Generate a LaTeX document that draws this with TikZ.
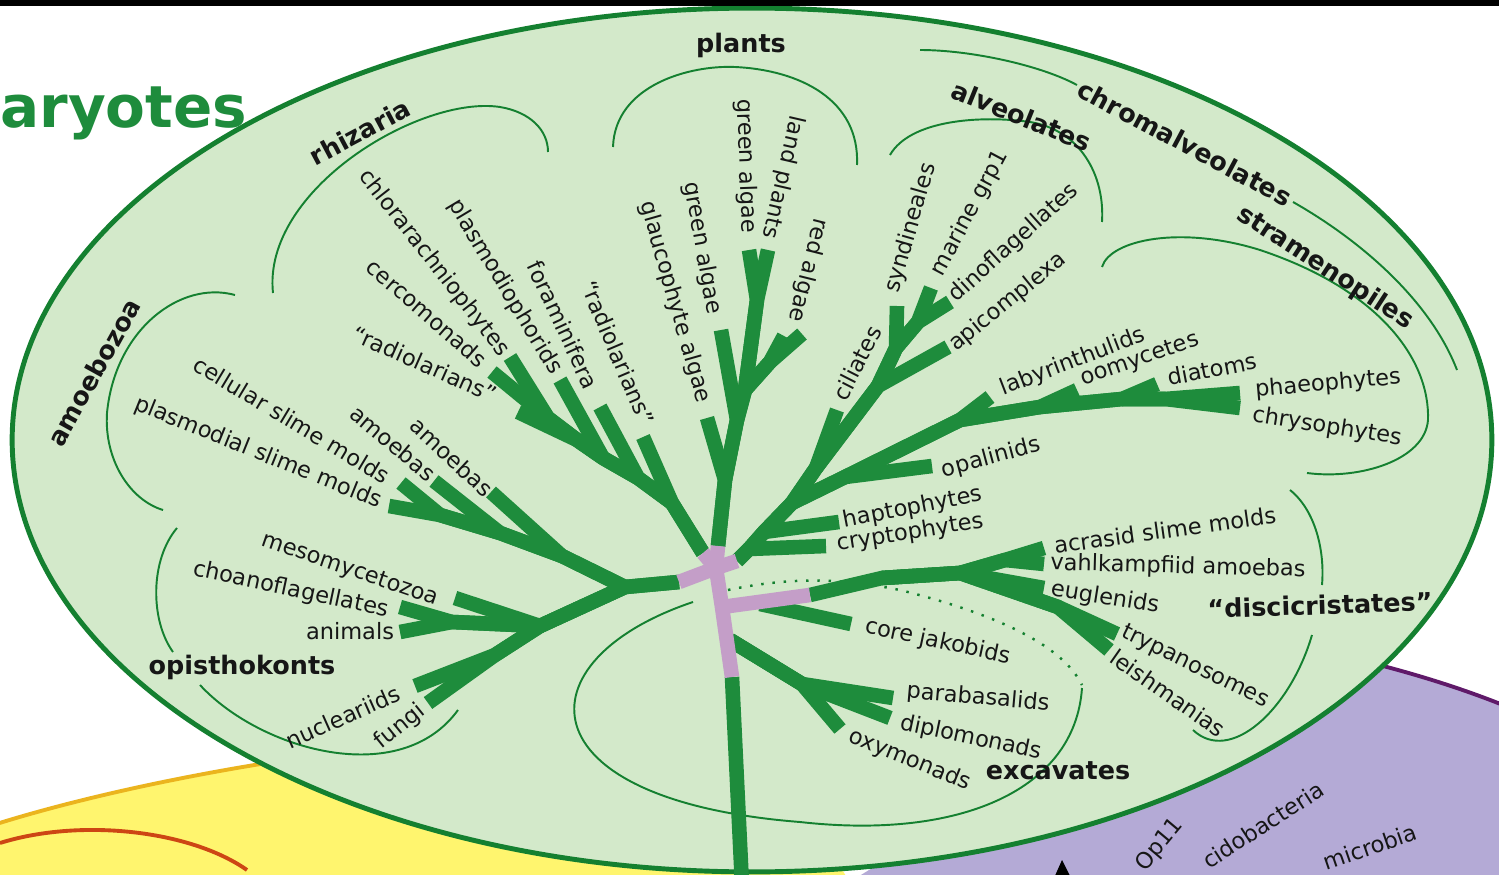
\documentclass[tikz,border=0pt]{standalone}
\usepackage{fontspec}
\setmainfont{DejaVu Sans}
\definecolor{bg}{RGB}{211,233,202}
\definecolor{rim}{RGB}{20,128,48}
\definecolor{br}{RGB}{30,140,60}
\definecolor{mauve}{RGB}{196,158,200}
\definecolor{yel}{RGB}{255,245,110}
\definecolor{yelrim}{RGB}{235,180,30}
\definecolor{redarc}{RGB}{205,70,20}
\definecolor{pur}{RGB}{180,170,214}
\definecolor{purrim}{RGB}{95,25,105}
\definecolor{ink}{RGB}{22,22,22}
\begin{document}
\begin{tikzpicture}[x=0.02cm,y=-0.02cm,
  branch/.style={draw=br,line width=8.3pt,line join=round},
  rootseg/.style={draw=mauve,line width=8.3pt,line join=round},
  bracket/.style={draw=rim,line width=1.1pt},
  lab/.style={text=ink,font=\fontsize{12.8}{14}\selectfont,inner sep=0pt},
  grp/.style={text=ink,font=\bfseries\fontsize{14.5}{16}\selectfont,inner sep=0pt}]
\useasboundingbox (0,0) rectangle (1499,875);
\clip (0,0) rectangle (1499,875);
\fill[white] (0,0) rectangle (1499,875);
% background regions
\fill[pur] (1250,637) .. controls (1350,655) and (1440,678) .. (1520,712) -- (1520,900) -- (820,900) -- cycle;
\draw[purrim,line width=2.2pt] (1250,637) .. controls (1350,655) and (1440,678) .. (1520,712);
\fill[yel] (-10,826) .. controls (150,775) and (450,720) .. (760,730) -- (860,900) -- (-10,900) -- cycle;
\draw[yelrim,line width=2.2pt] (-10,826) .. controls (150,775) and (450,720) .. (760,730);
\draw[redarc,line width=2.2pt] (0,843) .. controls (80,818) and (190,830) .. (247,870);
\filldraw[fill=bg,draw=rim,line width=2.8pt] (752,440) ellipse [x radius=14.8cm,y radius=8.64cm];
\fill[black] (0,0) rectangle (1499,6);
% purple labels
\fill[black] (1054,878) -- (1062,860) -- (1071,878) -- cycle;
\node[lab,rotate=50] (nOp) at (1160,845) {Op11};
\node[lab,rotate=33] (nAcido) at (1263,825) {cidobacteria};
\node[lab,rotate=19] (nMicro) at (1370,847) {microbia};
% brackets
\draw[bracket] (273,293) .. controls (262,190) and (420,95) .. (500,107) .. controls (530,112) and (548,130) .. (548,152);
\draw[bracket] (613,147) .. controls (615,85) and (690,65) .. (735,67) .. controls (800,70) and (860,100) .. (857,165);
\draw[bracket] (890,155) .. controls (910,120) and (980,115) .. (1030,122) .. controls (1080,130) and (1105,175) .. (1102,222);
\draw[bracket] (920,50) .. controls (970,50) and (1040,65) .. (1077,85);
\draw[bracket] (1293,202) .. controls (1360,240) and (1430,300) .. (1457,370);
\draw[bracket] (1102,267) .. controls (1110,240) and (1180,225) .. (1260,250) .. controls (1380,290) and (1430,360) .. (1428,420) .. controls (1425,460) and (1360,480) .. (1307,473);
\draw[bracket] (1290,490) .. controls (1315,510) and (1325,550) .. (1322,585);
\draw[bracket] (1312,635) .. controls (1290,710) and (1230,765) .. (1193,730);
\draw[bracket] (693,602) .. controls (520,660) and (520,800) .. (800,822) .. controls (960,840) and (1075,790) .. (1082,688);
\draw[bracket] (177,528) .. controls (150,560) and (150,620) .. (173,652);
\draw[bracket] (200,685) .. controls (260,750) and (400,790) .. (458,710);
\draw[bracket] (235,295) .. controls (180,280) and (115,330) .. (107,413) .. controls (104,460) and (130,500) .. (163,510);
% dotted line
\draw[rim,line width=1.4pt,dash pattern=on 1.4pt off 5pt] (728,590) .. controls (800,575) and (850,580) .. (900,590) .. controls (980,610) and (1060,640) .. (1082,685);
% coordinates
\coordinate (C0) at (716,568);
\coordinate (C1) at (722,607);
\coordinate (Pl0) at (718,546);
\coordinate (Rz0) at (703,553);
\coordinate (Ch0) at (737,561);
\coordinate (Un0) at (679,582);
\coordinate (Tr0) at (732,677);
\coordinate (TrEnd) at (742,885);
\coordinate (Dc0) at (810,595);
% plants
\coordinate (Pl1) at (725,480);
\coordinate (Pl2) at (737,420);
\coordinate (Pl3) at (745,390);
\coordinate (Pl4) at (757,300);
\coordinate (Ra0) at (770,362);
\coordinate (tGlau) at (707,418);
\coordinate (tGa1) at (721,330);
\coordinate (tGa2) at (749,250);
\coordinate (tLand) at (768,250);
\coordinate (tRa1) at (784,336);
\coordinate (tRa2) at (802,334);
% rhizaria
\coordinate (Rz1) at (672,503);
\coordinate (Rz2) at (638,478);
\coordinate (Rz3) at (603,458);
\coordinate (Rz4) at (577,440);
\coordinate (Rz5) at (548,418);
\coordinate (tRadR) at (643,437);
\coordinate (tForam) at (600,407);
\coordinate (tPlasmo) at (560,380);
\coordinate (tRadL) at (518,412);
\coordinate (tChlor) at (510,357);
\coordinate (tCerco) at (492,372);
% unikonts
\coordinate (Un1) at (625,587);
\coordinate (Am1) at (562,556);
\coordinate (Am2) at (500,533);
\coordinate (Am3) at (440,515);
\coordinate (tAmR) at (491,492);
\coordinate (tAmL) at (434,481);
\coordinate (tCell) at (401,483);
\coordinate (tPlasm) at (389,506);
\coordinate (Op1) at (540,626);
\coordinate (Op2) at (452,622);
\coordinate (Op3) at (495,655);
\coordinate (tMeso) at (455,598);
\coordinate (tChoano) at (400,607);
\coordinate (tAnim) at (400,632);
\coordinate (tNucl) at (415,686);
\coordinate (tFungi) at (428,703);
% chromalveolates
\coordinate (Ch1) at (749,549);
\coordinate (Ch2) at (764,532);
\coordinate (Ch3) at (792,503);
\coordinate (tCrypto) at (826,546);
\coordinate (tHapto) at (839,522);
\coordinate (Al1) at (816,468);
\coordinate (Al2) at (878,386);
\coordinate (Al3) at (896,348);
\coordinate (Al4) at (918,322);
\coordinate (tCil) at (837,410);
\coordinate (tApic) at (948,347);
\coordinate (tSynd) at (897,306);
\coordinate (tMar) at (931,288);
\coordinate (tDino) at (950,302);
\coordinate (St1) at (845,477);
\coordinate (St2) at (960,420);
\coordinate (St3) at (1040,407);
\coordinate (St4) at (1122,399);
\coordinate (St5) at (1165,399);
\coordinate (tOpal) at (932,466);
\coordinate (tLaby) at (990,397);
\coordinate (tOomy) at (1077,390);
\coordinate (tDiat) at (1157,384);
\coordinate (tPhaeo) at (1240,393);
\coordinate (tChryso) at (1240,408);
% excavates
\coordinate (Dc1) at (882,578);
\coordinate (Dc2) at (960,573);
\coordinate (Dc3) at (1005,560);
\coordinate (Dc4) at (1058,607);
\coordinate (tAcra) at (1044,548);
\coordinate (tVahl) at (1044,564);
\coordinate (tEugl) at (1044,588);
\coordinate (tTryp) at (1117,634);
\coordinate (tLeish) at (1109,650);
\coordinate (Cj0) at (760,604);
\coordinate (tCj) at (851,624);
\coordinate (Ex0) at (730,640);
\coordinate (Ex1) at (802,684);
\coordinate (tPara) at (893,698);
\coordinate (tDiplo) at (890,718);
\coordinate (tOxy) at (840,729);
% green branches
\draw[branch] (Tr0) -- (TrEnd);
\draw[branch] (Pl0) -- (Pl1) -- (tGlau);
\draw[branch] (Pl0) -- (Pl1) -- (Pl2) -- (tGa1);
\draw[branch] (Pl1) -- (Pl2) -- (Pl3) -- (Pl4) -- (tGa2);
\draw[branch] (Pl3) -- (Pl4) -- (tLand);
\draw[branch] (Pl2) -- (Pl3) -- (Ra0) -- (tRa1);
\draw[branch] (Pl3) -- (Ra0) -- (tRa2);
\draw[branch] (Rz0) -- (Rz1) -- (tRadR);
\draw[branch] (Rz0) -- (Rz1) -- (Rz2) -- (tForam);
\draw[branch] (Rz1) -- (Rz2) -- (Rz3) -- (tPlasmo);
\draw[branch] (Rz2) -- (Rz3) -- (Rz4) -- (tRadL);
\draw[branch] (Rz3) -- (Rz4) -- (Rz5) -- (tChlor);
\draw[branch] (Rz4) -- (Rz5) -- (tCerco);
\draw[branch] (Un0) -- (Un1) -- (Am1) -- (tAmR);
\draw[branch] (Un1) -- (Am1) -- (Am2) -- (tAmL);
\draw[branch] (Am1) -- (Am2) -- (Am3) -- (tCell);
\draw[branch] (Am2) -- (Am3) -- (tPlasm);
\draw[branch] (Un0) -- (Un1) -- (Op1) -- (tMeso);
\draw[branch] (Un1) -- (Op1) -- (Op2) -- (tChoano);
\draw[branch] (Op1) -- (Op2) -- (tAnim);
\draw[branch] (Un1) -- (Op1) -- (Op3) -- (tNucl);
\draw[branch] (Op1) -- (Op3) -- (tFungi);
\draw[branch] (Ch0) -- (Ch1) -- (tCrypto);
\draw[branch] (Ch0) -- (Ch1) -- (Ch2) -- (tHapto);
\draw[branch] (Ch1) -- (Ch2) -- (Ch3) -- (Al1) -- (tCil);
\draw[branch] (Ch3) -- (Al1) -- (Al2) -- (tApic);
\draw[branch] (Al1) -- (Al2) -- (Al3) -- (tSynd);
\draw[branch] (Al2) -- (Al3) -- (Al4) -- (tMar);
\draw[branch] (Al3) -- (Al4) -- (tDino);
\draw[branch] (Ch2) -- (Ch3) -- (St1) -- (tOpal);
\draw[branch] (Ch3) -- (St1) -- (St2) -- (tLaby);
\draw[branch] (St1) -- (St2) -- (St3) -- (tOomy);
\draw[branch] (St2) -- (St3) -- (St4) -- (tDiat);
\draw[branch] (St3) -- (St4) -- (St5) -- (tPhaeo);
\draw[branch] (St4) -- (St5) -- (tChryso);
\draw[branch] (Dc0) -- (Dc1) -- (Dc2) -- (Dc3) -- (tAcra);
\draw[branch] (Dc2) -- (Dc3) -- (tVahl);
\draw[branch] (Dc1) -- (Dc2) -- (tEugl);
\draw[branch] (Dc1) -- (Dc2) -- (Dc4) -- (tTryp);
\draw[branch] (Dc2) -- (Dc4) -- (tLeish);
\draw[branch] (Cj0) -- (tCj);
\draw[branch] (Ex0) -- (Ex1) -- (tPara);
\draw[branch] (Ex0) -- (Ex1) -- (tDiplo);
\draw[branch] (Ex0) -- (Ex1) -- (tOxy);
% purple root
\draw[rootseg] (Pl0) -- (C0) -- (Un0);
\draw[rootseg] (Rz0) -- (C0) -- (Ch0);
\draw[rootseg] (C0) -- (C1) -- (Tr0);
\draw[rootseg] (C1) -- (Dc0);
% title
\node[font=\bfseries\fontsize{33}{36}\selectfont,text=br,anchor=base west,inner sep=0pt] (title) at (0,128) {aryotes};
% group labels
\node[grp,rotate=28] (gRhiz) at (360,132) {rhizaria};
\node[grp] (gPlants) at (741,45) {plants};
\node[grp,rotate=-22] (gAlv) at (1022,116) {alveolates};
\node[grp,rotate=-28] (gChrom) at (1185,143) {chromalveolates};
\node[grp,rotate=-33] (gStram) at (1325,268) {stramenopiles};
\node[grp,rotate=61] (gAmoe) at (94,372) {amoebozoa};
\node[grp] (gOpis) at (242,667) {opisthokonts};
\node[grp] (gExc) at (1058,771) {excavates};
\node[grp,rotate=2] (gDisc) at (1320,605) {“discicristates”};
% rhizaria labels
\node[lab,rotate=-52] (lChlor) at (434,263) {chlorarachniophytes};
\node[lab,rotate=-59] (lPlasmo) at (505,287) {plasmodiophorids};
\node[lab,rotate=-41] (lCerco) at (427,313) {cercomonads};
\node[lab,rotate=-24] (lRadL) at (425,364) {“radiolarians”};
\node[lab,rotate=-65] (lForam) at (563,325) {foraminifera};
\node[lab,rotate=-67] (lRadR) at (618,353) {“radiolarians”};
% plants labels
\node[lab,rotate=-74] (lGlau) at (675,302) {glaucophyte algae};
\node[lab,rotate=-80] (lGa1) at (702,248) {green algae};
\node[lab,rotate=-88] (lGa2) at (746,166) {green algae};
\node[lab,rotate=-103] (lLand) at (783,177) {land plants};
\node[lab,rotate=-104] (lRed) at (808,270) {red algae};
% alveolates
\node[lab,rotate=63] (lCil) at (857,363) {ciliates};
\node[lab,rotate=74] (lSynd) at (911,228) {syndineales};
\node[lab,rotate=62] (lMar) at (970,213) {marine grp1};
\node[lab,rotate=42] (lDino) at (1014,243) {dinoflagellates};
\node[lab,rotate=39] (lApic) at (1008,302) {apicomplexa};
% stramenopiles
\node[lab,rotate=21] (lLaby) at (1073,362) {labyrinthulids};
\node[lab,rotate=19] (lOomy) at (1140,360) {oomycetes};
\node[lab,rotate=11] (lDiat) at (1212,369) {diatoms};
\node[lab,rotate=5] (lPhaeo) at (1328,384) {phaeophytes};
\node[lab,rotate=-9] (lChryso) at (1327,427) {chrysophytes};
\node[lab,rotate=15] (lOpal) at (991,458) {opalinids};
\node[lab,rotate=11] (lHapto) at (913,508) {haptophytes};
\node[lab,rotate=9] (lCrypto) at (910,533) {cryptophytes};
% excavates
\node[lab,rotate=8] (lAcra) at (1165,530) {acrasid slime molds};
\node[lab,rotate=-1.5] (lVahl) at (1178,567) {vahlkampfiid amoebas};
\node[lab,rotate=-9] (lEugl) at (1105,598) {euglenids};
\node[lab,rotate=-26] (lTryp) at (1195,667) {trypanosomes};
\node[lab,rotate=-35] (lLeish) at (1168,693) {leishmanias};
\node[lab,rotate=-12] (lCj) at (938,642) {core jakobids};
\node[lab,rotate=-5] (lPara) at (978,698) {parabasalids};
\node[lab,rotate=-12] (lDiplo) at (971,738) {diplomonads};
\node[lab,rotate=-22] (lOxy) at (910,760) {oxymonads};
% amoebozoa
\node[lab,rotate=-31] (lCell) at (292,420) {cellular slime molds};
\node[lab,rotate=-22] (lPlasm) at (258,453) {plasmodial slime molds};
\node[lab,rotate=-40] (lAmL) at (393,443) {amoebas};
\node[lab,rotate=-43] (lAmR) at (452,457) {amoebas};
% opisthokonts
\node[lab,rotate=-19] (lMeso) at (350,570) {mesomycetozoa};
\node[lab,rotate=-12] (lChoano) at (291,590) {choanoflagellates};
\node[lab] (lAnim) at (350,631) {animals};
\node[lab,rotate=24] (lNucl) at (343,717) {nucleariids};
\node[lab,rotate=39] (lFungi) at (400,727) {fungi};
\end{tikzpicture}
\end{document}
